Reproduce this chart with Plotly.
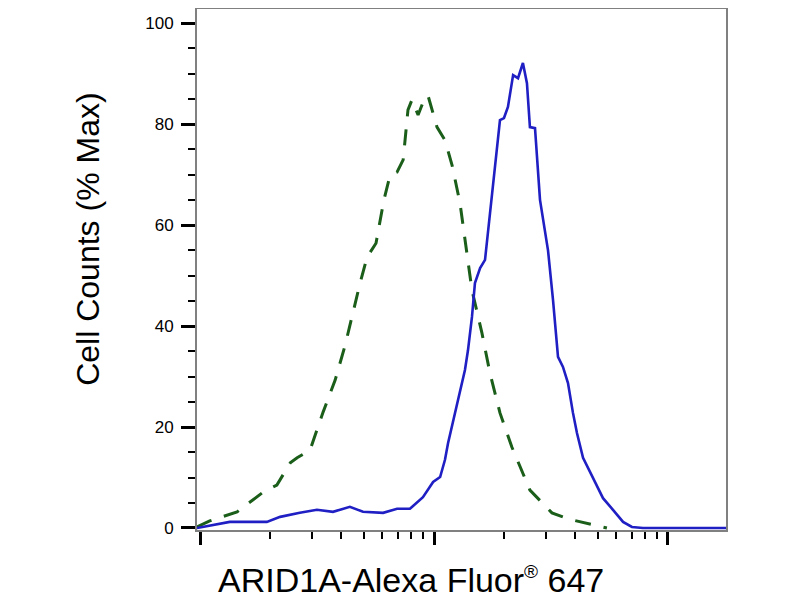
import plotly.graph_objects as go

# isotype control (dashed green)
ctrl_x = [97, 110, 144, 186, 213, 243, 260, 295, 336, 378, 417, 483, 518, 565, 611, 649,
          695, 738, 774, 805, 855, 906, 942, 1030, 1114, 1194, 1291, 1397, 1453, 1603,
          1734, 1914, 2153, 2570, 3192, 3738, 4644, 5483]
ctrl_y = [0.2, 1.4, 3.2, 7.1, 8.5, 12.9, 13.9, 15.4, 23.0, 29.3, 36.2, 48.5, 53.7, 56.4,
          65.0, 69.9, 70.5, 72.9, 82.8, 84.8, 81.8, 84.8, 85.7, 79.4, 76.8, 71.9, 64.4,
          52.7, 47.1, 38.6, 30.7, 22.8, 16.0, 7.5, 3.0, 1.8, 0.8, 0.0]

# ARID1A stained sample (solid blue)
arid_x = [97, 134, 193, 220, 267, 316, 370, 437, 497, 606, 695, 789, 897, 991, 1062, 1114,
          1148, 1230, 1356, 1397, 1453, 1496, 1574, 1652, 1770, 1914, 1991, 2070, 2178,
          2286, 2399, 2496, 2570, 2702, 2838, 3071, 3227, 3388, 3558, 3738, 3926, 4083,
          4335, 4977, 5277, 5821, 6427, 7015, 7812, 17700]
arid_y = [0.0, 1.2, 1.2, 2.2, 3.0, 3.6, 3.2, 4.2, 3.2, 3.0, 3.8, 3.8, 6.1, 9.1, 10.1, 13.5,
          16.8, 22.8, 31.3, 35.2, 41.8, 48.5, 51.5, 53.1, 66.3, 80.8, 81.2, 83.4, 89.7,
          89.1, 92.1, 88.1, 79.4, 79.2, 65.0, 55.0, 45.1, 33.9, 31.9, 28.7, 22.8, 18.8,
          13.9, 8.1, 5.9, 3.6, 1.2, 0.2, 0.0, 0.0]

x_title = "ARID1A-Alexa Fluor<sup><span style='font-size:19px'>®</span></sup> 647"
y_title = "Cell Counts (% Max)"

fig = go.Figure()
fig.add_scatter(x=ctrl_x, y=ctrl_y, mode="lines", name="Isotype control",
                line=dict(color="#1a5e1a", width=3, dash="16px,13px"))
fig.add_scatter(x=arid_x, y=arid_y, mode="lines", name="ARID1A",
                line=dict(color="#1f1fc4", width=2.6))

# the page adds an 8px body margin, so margins are trimmed by 8 on left/top
fig.update_layout(
    width=800, height=600,
    margin=dict(l=189, r=82, t=1, b=78),
    paper_bgcolor="white", plot_bgcolor="white",
    showlegend=False,
    font=dict(family="Liberation Sans, Arial, sans-serif", color="black"),
)

fig.update_xaxes(
    type="log", range=[1.987, 4.248], dtick=1, automargin=False,
    showticklabels=False, showgrid=False, zeroline=False,
    showline=True, linecolor="#808080", linewidth=2, mirror=True,
    ticks="outside", ticklen=13, tickwidth=3, tickcolor="black",
    minor=dict(ticks="outside", dtick="D1", ticklen=7, tickwidth=1.5, tickcolor="black", showgrid=False),
)

fig.update_yaxes(
    range=[-0.4, 102.8], dtick=20, tick0=0, automargin=False,
    showgrid=False, zeroline=False,
    showline=True, linecolor="#808080", linewidth=2, mirror=True,
    ticks="outside", ticklen=14, tickwidth=3, tickcolor="black",
    tickfont=dict(size=17), ticklabelstandoff=4,
    minor=dict(ticks="outside", dtick=5, ticklen=7, tickwidth=1.5, tickcolor="black", showgrid=False),
)

# axis titles sit off-centre in the original, so place them as annotations
fig.add_annotation(text=x_title, xref="paper", yref="paper", x=0.404, y=0,
                   xanchor="center", yanchor="top", yshift=-29, showarrow=False,
                   font=dict(size=34))
fig.add_annotation(text=y_title, xref="paper", yref="paper", x=0, y=0.557,
                   xanchor="center", yanchor="middle", xshift=-109, textangle=-90,
                   showarrow=False, font=dict(size=32))

fig.write_html("out.html")
